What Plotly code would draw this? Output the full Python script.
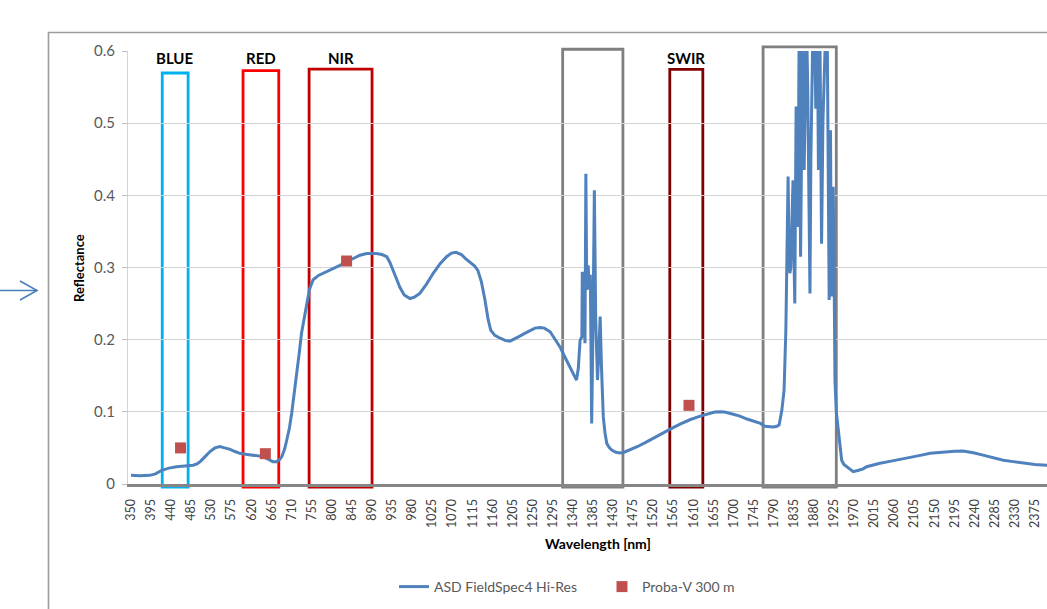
import plotly.graph_objects as go

# ASD FieldSpec4 Hi-Res reflectance spectrum (wavelength nm, reflectance)
asd_wavelength = [
    350, 370, 392, 405, 419, 435, 452, 470, 489, 498, 505, 516, 527, 538, 549,
    560, 572, 583, 594, 610, 624, 636, 646, 655, 661, 668, 676, 682, 688, 694,
    699, 705, 710, 716, 721, 727, 732, 738, 744, 750, 758, 770, 788, 803, 818,
    833, 848, 863, 878, 890, 900, 912, 923, 930, 938, 945, 952, 962, 975, 985,
    997, 1012, 1027, 1042, 1057, 1068, 1078, 1090, 1100, 1109, 1120, 1127, 1135,
    1143, 1150, 1156, 1165, 1177, 1188, 1199, 1210, 1221, 1233, 1244, 1255, 1266,
    1276, 1289, 1300, 1311, 1322, 1333, 1341, 1348, 1352, 1356, 1360, 1361, 1364,
    1367, 1369, 1371, 1374, 1377, 1379, 1382, 1385, 1388, 1391, 1393, 1395, 1398,
    1401, 1404, 1408, 1412, 1416, 1422, 1427, 1436, 1445, 1455, 1468, 1485, 1501,
    1518, 1535, 1558, 1580, 1602, 1625, 1642, 1658, 1670, 1680, 1697, 1714, 1730,
    1748, 1760, 1770, 1780, 1789, 1797, 1802, 1808, 1813, 1817, 1819, 1822, 1824,
    1826, 1828, 1830, 1833, 1835, 1837, 1840, 1843, 1845, 1847, 1849, 1850, 1852,
    1854, 1856, 1858, 1861, 1863, 1866, 1868, 1871, 1873, 1875, 1878, 1881, 1884,
    1888, 1890, 1893, 1895, 1897, 1900, 1904, 1907, 1910, 1912, 1914, 1917, 1919,
    1921, 1923, 1925, 1927, 1930, 1934, 1938, 1942, 1947, 1953, 1960, 1968, 1980,
    1990, 1998, 2010, 2028, 2047, 2065, 2083, 2102, 2121, 2140, 2158, 2177, 2195,
    2214, 2226, 2237, 2252, 2267, 2285, 2304, 2326, 2349, 2375, 2401, 2420,
]
asd_reflectance = [
    0.012, 0.0115, 0.012, 0.014, 0.019, 0.022, 0.024, 0.025, 0.026, 0.028, 0.031,
    0.038, 0.045, 0.050, 0.052, 0.050, 0.048, 0.045, 0.0425, 0.041, 0.040, 0.039,
    0.038, 0.035, 0.033, 0.031, 0.031, 0.033, 0.038, 0.048, 0.061, 0.078, 0.098,
    0.125, 0.153, 0.182, 0.209, 0.232, 0.250, 0.270, 0.283, 0.289, 0.294, 0.299,
    0.303, 0.308, 0.3125, 0.317, 0.3195, 0.320, 0.3195, 0.318, 0.315, 0.307, 0.296,
    0.284, 0.273, 0.262, 0.257, 0.259, 0.264, 0.277, 0.292, 0.305, 0.315, 0.320,
    0.321, 0.318, 0.312, 0.307, 0.302, 0.296, 0.280, 0.255, 0.228, 0.213, 0.206,
    0.202, 0.199, 0.198, 0.201, 0.205, 0.209, 0.213, 0.216, 0.217, 0.216, 0.211,
    0.200, 0.190, 0.176, 0.162, 0.152, 0.144, 0.160, 0.199, 0.204, 0.294, 0.250,
    0.195, 0.430, 0.269, 0.303, 0.270, 0.290, 0.084, 0.220, 0.407, 0.230, 0.180,
    0.144, 0.180, 0.232, 0.162, 0.093, 0.070, 0.056, 0.050, 0.047, 0.044, 0.043,
    0.044, 0.047, 0.052, 0.057, 0.063, 0.069, 0.076, 0.083, 0.089, 0.094, 0.097,
    0.0997, 0.100, 0.0997, 0.097, 0.094, 0.090, 0.087, 0.084, 0.080, 0.079, 0.079,
    0.080, 0.082, 0.102, 0.130, 0.213, 0.292, 0.426, 0.330, 0.292, 0.300, 0.343,
    0.421, 0.320, 0.250, 0.523, 0.356, 0.450, 0.650, 0.400, 0.315, 0.450, 0.650,
    0.550, 0.435, 0.550, 0.650, 0.550, 0.400, 0.264, 0.450, 0.650, 0.650, 0.650,
    0.520, 0.600, 0.435, 0.650, 0.450, 0.333, 0.500, 0.650, 0.650, 0.600, 0.400,
    0.255, 0.490, 0.260, 0.300, 0.412, 0.300, 0.144, 0.100, 0.075, 0.050, 0.033,
    0.027, 0.024, 0.020, 0.017, 0.019, 0.021, 0.024, 0.026, 0.0287, 0.031, 0.033,
    0.0355, 0.038, 0.040, 0.0425, 0.0437, 0.0447, 0.0455, 0.0457, 0.045, 0.0434,
    0.041, 0.0388, 0.036, 0.033, 0.031, 0.0287, 0.027, 0.026, 0.025,
]

# Proba-V 300 m band reflectances
probav_wavelength = [461, 651, 833, 1600]
probav_reflectance = [0.050, 0.042, 0.309, 0.109]

# Spectral windows: label, start nm, end nm, top reflectance
band_labels = ["BLUE", "RED", "NIR", "", "SWIR", ""]
band_start = [420, 601, 749, 1317, 1557, 1766]
band_end = [478, 681, 890, 1452, 1631, 1930]
band_top = [0.5695, 0.5727, 0.575, 0.6024, 0.5744, 0.6058]
band_colors = ["#00b0f0", "#ff0000", "#c00000", "#7f7f7f", "#7f0000", "#7f7f7f"]

Y_MAX = 0.6
X_RANGE = [343.3, 2402]

# figure geometry (pixels)
W, H = 1047, 609
ML, MR, MT, MB = 128, 0, 51, 125
PW, PH = W - ML - MR, H - MT - MB


def px_x(px):
    return (px - ML) / PW


def px_y(py):
    return (H - MB - py) / PH


FONT = "Lato, 'Open Sans', sans-serif"

fig = go.Figure()

fig.add_trace(go.Scatter(
    x=asd_wavelength, y=asd_reflectance, mode="lines",
    name="ASD FieldSpec4 Hi-Res",
    line=dict(color="#4f81bd", width=3),
))
fig.add_trace(go.Scatter(
    x=probav_wavelength, y=probav_reflectance, mode="markers",
    name="Proba-V 300 m",
    marker=dict(symbol="square", size=11, color="#c0504d"),
))

shapes = []
annotations = []
for lab, x0, x1, top, col in zip(band_labels, band_start, band_end, band_top, band_colors):
    shapes.append(dict(
        type="rect", xref="x", yref="paper", x0=x0, x1=x1,
        y0=-0.007, y1=top / Y_MAX, line=dict(color=col, width=2.8),
        fillcolor="rgba(0,0,0,0)", layer="between",
    ))
    if lab:
        annotations.append(dict(
            x=(x0 + x1) / 2, y=px_y(58), xref="x", yref="paper",
            text=f"<b>{lab}</b>", showarrow=False,
            font=dict(family=FONT, size=15, color="#000000"),
            xanchor="center", yanchor="middle",
        ))

# outer chart frame
shapes.append(dict(
    type="rect", xref="paper", yref="paper",
    x0=px_x(48.5), x1=px_x(1100), y0=px_y(700), y1=px_y(32.5),
    line=dict(color="#9d9d9d", width=1.6), fillcolor="rgba(0,0,0,0)",
    layer="below",
))
# pointer arrow on the left
shapes.append(dict(
    type="line", xref="paper", yref="paper",
    x0=px_x(-2), x1=px_x(37), y0=px_y(290.5), y1=px_y(290.5),
    line=dict(color="#4a7ebb", width=1.6),
))
shapes.append(dict(
    type="path", xref="paper", yref="paper",
    path=(f"M {px_x(20)} {px_y(281)} L {px_x(37)} {px_y(290.5)} "
          f"L {px_x(20)} {px_y(300)}"),
    line=dict(color="#4a7ebb", width=1.6),
))

annotations.append(dict(
    x=px_x(79), y=px_y(268), xref="paper", yref="paper",
    text="<b>Reflectance</b>", textangle=-90, showarrow=False,
    xanchor="center", yanchor="middle",
    font=dict(family=FONT, size=13, color="#000000"),
))
annotations.append(dict(
    x=px_x(598), y=px_y(543), xref="paper", yref="paper",
    text="<b>Wavelength [nm]</b>", showarrow=False,
    xanchor="center", yanchor="middle",
    font=dict(family=FONT, size=14, color="#000000"),
))

fig.update_layout(
    width=W, height=H, autosize=False,
    margin=dict(l=ML, r=MR, t=MT, b=MB, pad=0),
    paper_bgcolor="white", plot_bgcolor="white",
    font=dict(family=FONT, color="#595959"),
    shapes=shapes, annotations=annotations,
    showlegend=True,
    legend=dict(
        orientation="h", x=px_x(394), y=px_y(587),
        xanchor="left", yanchor="middle",
        font=dict(family=FONT, size=14, color="#595959"),
        entrywidth=163, entrywidthmode="pixels",
        bgcolor="rgba(0,0,0,0)",
    ),
    xaxis=dict(
        range=X_RANGE, tick0=350, dtick=45, tickmode="linear",
        tickangle=-90, showgrid=False, zeroline=False,
        showline=True, linecolor="#868686", linewidth=3,
        ticks="", tickfont=dict(family=FONT, size=12.5, color="#404040"),
        ticklabelstandoff=7,
    ),
    yaxis=dict(
        range=[0, Y_MAX], dtick=0.1, tick0=0,
        showgrid=True, gridcolor="#d4d4d4", gridwidth=1, zeroline=False,
        showline=True, linecolor="#d4d4d4", linewidth=1,
        ticks="outside", ticklen=5, tickcolor="#bfbfbf",
        tickfont=dict(family=FONT, size=15, color="#595959"),
        ticklabelstandoff=4,
    ),
)

fig.write_html("out.html")
